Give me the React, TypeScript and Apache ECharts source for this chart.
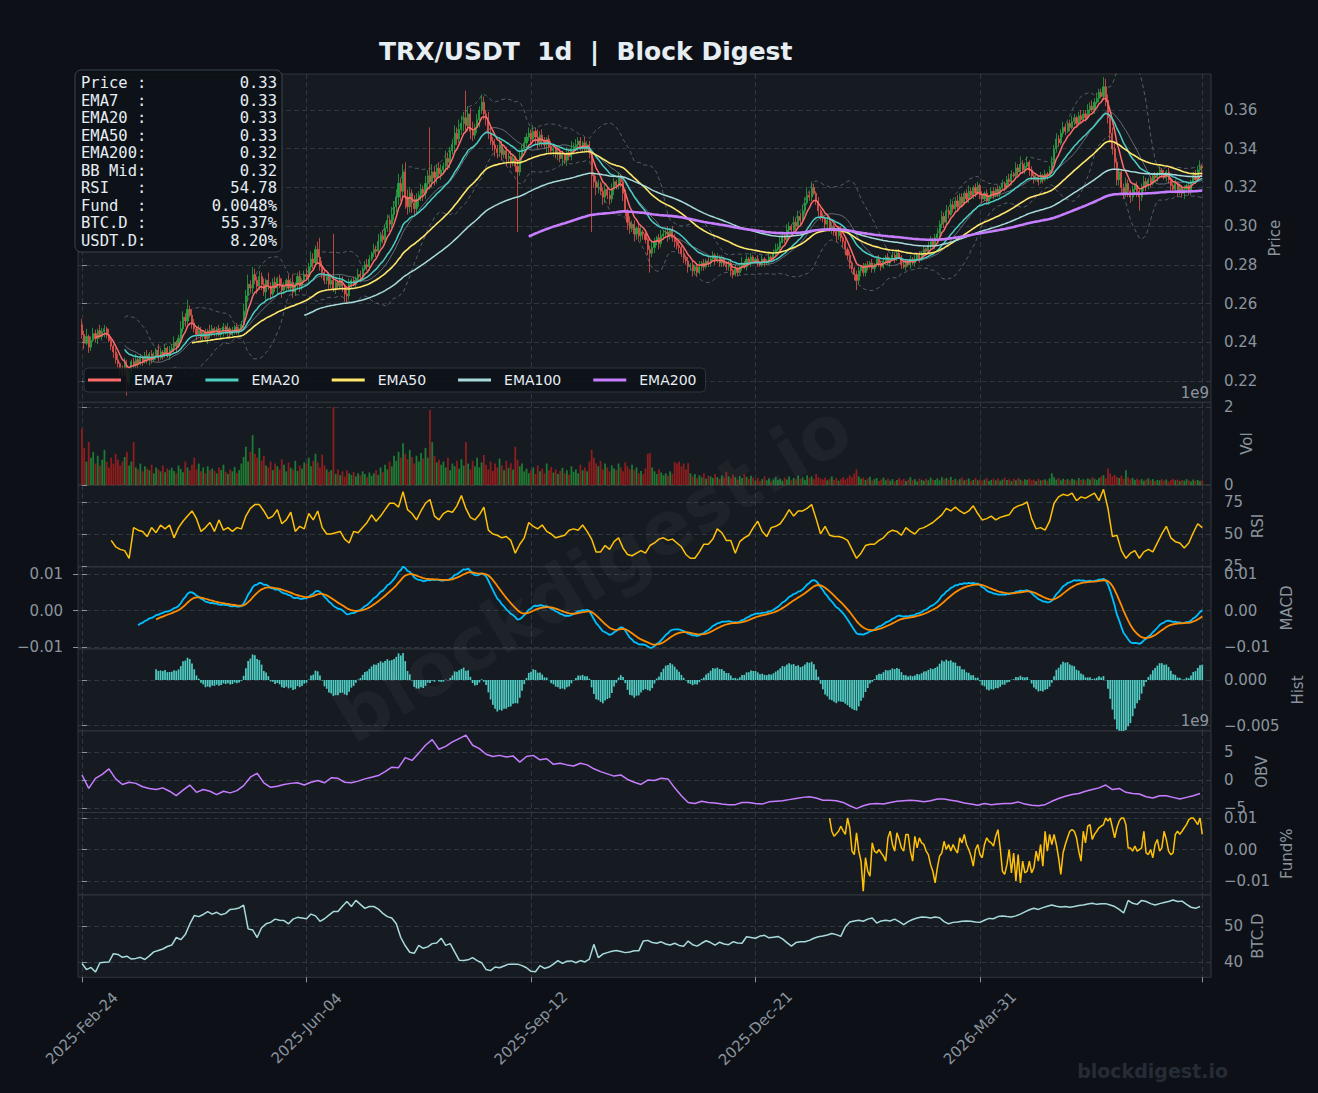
import React, { useEffect, useRef } from "react";
import * as echarts from "echarts";

// ---------------- DATA ----------------
const START_UTC = Date.UTC(2025, 1, 24);
const FIRST_OPEN = 0.249;
// daily closes, units of 0.0001 USDT
const closeE4 = [
  2440, 2395, 2430, 2375, 2410, 2445, 2420, 2460, 2430, 2455,
  2470, 2440, 2410, 2380, 2350, 2310, 2290, 2260, 2240, 2280,
  2195, 2250, 2300, 2280, 2310, 2290, 2320, 2300, 2330, 2310,
  2340, 2310, 2330, 2360, 2320, 2350, 2340, 2370, 2330, 2360,
  2370, 2400, 2380, 2420, 2470, 2530, 2510, 2570, 2540, 2500,
  2470, 2440, 2460, 2430, 2450, 2420, 2460, 2440, 2470, 2450,
  2470, 2440, 2460, 2480, 2450, 2470, 2440, 2460, 2480, 2450,
  2470, 2490, 2560, 2640, 2700, 2680, 2750, 2720, 2690, 2740,
  2700, 2660, 2720, 2690, 2650, 2710, 2680, 2730, 2700, 2670,
  2690, 2720, 2680, 2710, 2660, 2700, 2740, 2690, 2720, 2750,
  2740, 2790, 2830, 2810, 2880, 2840, 2790, 2760, 2720, 2740,
  2700, 2720, 2680, 2710, 2690, 2720, 2690, 2650, 2640, 2700,
  2720, 2700, 2730, 2750, 2740, 2780, 2800, 2790, 2830, 2860,
  2880, 2870, 2920, 2950, 2930, 2990, 3030, 3010, 3060, 3100,
  3150, 3220, 3180, 3280, 3150, 3100, 3170, 3120, 3090, 3140,
  3160, 3190, 3170, 3220, 3260, 3230, 3280, 3250, 3300, 3270,
  3290, 3310, 3350, 3330, 3390, 3420, 3480, 3450, 3500, 3530,
  3560, 3520, 3580, 3490, 3470, 3510, 3550, 3600, 3640, 3580,
  3560, 3480, 3440, 3420, 3400, 3380, 3420, 3370, 3390, 3350,
  3360, 3330, 3350, 3310, 3280, 3360, 3400, 3430, 3460, 3480,
  3450, 3490, 3460, 3430, 3470, 3440, 3420, 3450, 3410, 3390,
  3400, 3370, 3380, 3350, 3370, 3340, 3380, 3360, 3400, 3410,
  3420, 3440, 3410, 3430, 3400, 3420, 3380, 3260, 3230, 3200,
  3220, 3180, 3150, 3190, 3160, 3140, 3190, 3230, 3210, 3250,
  3230, 3170, 3080, 3020, 2990, 3010, 2960, 2990, 2950, 2970,
  2960, 2930, 2880, 2860, 2890, 2920, 2940, 2910, 2950, 2960,
  2970, 2950, 2980, 2940, 2920, 2900, 2890, 2860, 2840, 2820,
  2790, 2800, 2770, 2790, 2760, 2790, 2810, 2790, 2820, 2810,
  2830, 2850, 2820, 2840, 2810, 2830, 2800, 2790, 2810, 2770,
  2750, 2780, 2760, 2790, 2810, 2790, 2830, 2810, 2840, 2820,
  2830, 2810, 2800, 2830, 2810, 2820, 2840, 2830, 2860, 2880,
  2890, 2920, 2950, 2930, 2980, 3000, 2980, 3020, 3000, 3050,
  3030, 3080, 3120, 3160, 3150, 3200, 3170, 3130, 3080, 3050,
  3040, 3010, 3030, 2990, 3000, 2970, 2950, 2980, 2940, 2920,
  2880, 2850, 2810, 2780, 2750, 2720, 2770, 2790, 2760, 2800,
  2790, 2810, 2780, 2800, 2830, 2810, 2790, 2820, 2840, 2810,
  2830, 2850, 2830, 2860, 2840, 2800, 2790, 2820, 2800, 2830,
  2810, 2830, 2850, 2830, 2860, 2880, 2870, 2900, 2920, 2900,
  2940, 2960, 3010, 3050, 3020, 3080, 3060, 3110, 3090, 3130,
  3100, 3150, 3120, 3170, 3140, 3180, 3160, 3200, 3170, 3210,
  3160, 3140, 3170, 3130, 3150, 3180, 3160, 3190, 3170, 3200,
  3220, 3200, 3240, 3230, 3270, 3260, 3300, 3280, 3320, 3290,
  3310, 3330, 3290, 3260, 3240, 3250, 3230, 3260, 3240, 3270,
  3260, 3290, 3330, 3400, 3450, 3430, 3480, 3510, 3490, 3530,
  3510, 3540, 3560, 3530, 3570, 3550, 3580, 3560, 3600, 3620,
  3600, 3640, 3660, 3690, 3670, 3720, 3650, 3560, 3480, 3400,
  3330, 3240, 3280, 3200, 3170, 3220, 3180, 3150, 3190, 3210,
  3180, 3150, 3200, 3230, 3210, 3240, 3220, 3260, 3250, 3270,
  3290, 3270, 3250, 3280, 3240, 3210, 3190, 3220, 3180, 3200,
  3170, 3190, 3210, 3180, 3230, 3260, 3240, 3290, 3310, 3300,
];
// upper / lower wick lengths, units of 0.001 USDT
const upperWickE3 = [
  3,2,4,1,2,3,2,1,3,2,2,1,3,2,1,2,3,1,2,4,
  3,2,1,2,3,1,2,1,2,3,1,2,2,1,3,2,1,2,1,2,
  2,3,1,2,4,3,2,5,2,3,2,1,3,2,1,2,1,3,2,1,
  1,2,1,2,1,3,1,2,1,2,1,2,4,3,5,2,4,3,2,3,
  2,3,1,4,2,2,3,1,2,3,2,1,3,2,4,1,2,3,1,2,
  3,2,4,3,2,4,10,3,2,1,2,3,24,2,1,3,2,1,2,3,
  1,2,1,3,2,1,2,3,2,1,3,2,4,2,3,2,3,2,4,3,
  4,5,3,4,5,4,3,2,4,3,2,3,2,4,3,25,4,3,2,3,
  3,2,4,3,2,3,4,3,5,4,3,14,4,3,5,2,3,2,4,3,
  2,3,4,2,3,2,3,2,1,2,2,3,2,1,2,3,2,3,2,3,
  2,3,2,4,2,3,2,1,2,3,2,1,3,2,2,1,3,2,4,2,
  3,2,2,1,3,2,2,1,2,3,2,1,2,3,1,2,3,2,1,3,
  2,1,2,1,3,2,2,1,2,3,1,2,1,2,3,2,1,2,3,2,
  2,3,1,2,2,1,2,1,2,1,2,1,2,1,2,3,1,2,1,2,
  1,2,1,2,1,2,1,2,1,2,1,2,1,2,3,1,2,1,2,1,
  1,2,1,2,1,1,2,1,2,3,2,3,2,1,3,2,1,3,2,3,
  2,3,3,4,2,3,2,1,2,1,2,1,2,1,2,1,2,1,2,1,
  2,1,2,1,1,2,2,1,2,1,2,1,2,1,1,2,1,2,1,2,
  1,2,1,1,2,1,2,1,1,2,1,2,1,2,1,2,1,2,3,2,
  2,3,2,3,2,3,2,3,2,2,3,2,2,1,2,3,2,1,2,2,
  1,2,1,2,1,2,2,1,2,1,2,1,2,3,2,1,3,2,4,2,
  2,3,1,2,1,2,1,2,1,2,1,2,3,2,3,2,2,3,2,1,
  2,3,2,1,2,3,2,2,3,2,3,2,3,2,2,5,4,3,2,3,
  3,2,2,1,2,3,2,1,2,1,2,1,2,3,2,1,2,1,2,1,
  2,1,2,1,2,1,1,2,1,2,1,2,1,2,1,2,3,2,3,1,
];
const lowerWickE3 = [
  2,3,1,3,2,1,2,3,1,2,3,2,1,2,3,2,2,3,2,1,
  7,2,3,1,2,3,1,2,1,2,3,2,1,2,2,1,3,2,1,2,
  1,2,3,1,2,2,3,2,1,3,2,3,1,2,2,1,3,2,1,2,
  2,1,2,3,1,2,2,1,2,1,2,1,2,2,3,2,3,2,4,2,
  3,2,4,2,3,1,2,3,2,4,2,3,1,2,3,2,2,3,2,1,
  2,3,2,3,2,3,2,3,2,2,3,2,2,3,2,1,3,4,4,2,
  2,1,2,2,3,2,1,2,2,1,2,3,2,3,2,3,2,4,2,3,
  3,4,5,3,6,4,3,5,4,3,4,3,4,3,3,4,3,4,3,2,
  3,2,3,4,3,2,4,3,2,3,4,3,3,4,3,2,3,4,2,3,
  4,3,2,3,4,3,2,3,2,4,2,3,2,3,31,2,3,2,3,2,
  3,2,4,3,2,3,2,4,3,2,3,2,3,2,4,2,3,2,2,3,
  2,3,2,3,2,2,3,29,3,4,3,2,4,3,2,3,2,3,2,2,
  3,4,3,4,3,2,4,3,2,3,3,2,3,10,2,3,2,3,2,2,
  2,3,2,2,3,2,3,2,3,2,3,2,3,2,2,1,2,2,1,2,
  2,1,2,1,2,2,1,2,2,3,2,1,2,1,2,1,2,1,2,1,
  1,2,1,1,2,1,2,1,1,2,1,2,1,2,1,2,2,1,2,1,
  2,1,2,1,2,2,1,2,3,2,2,3,2,2,3,2,3,2,2,3,
  3,2,3,2,3,5,2,3,2,2,2,1,2,2,1,2,2,1,2,1,
  2,1,2,1,1,2,1,2,1,2,1,2,1,2,1,2,1,1,2,1,
  2,1,2,2,3,2,2,1,2,2,2,1,2,1,2,2,1,2,2,1,
  2,2,1,2,2,1,2,1,2,2,1,2,1,2,2,1,2,2,1,2,
  2,1,3,2,2,1,2,1,2,1,2,1,2,1,2,2,1,2,2,1,
  2,1,2,2,1,2,1,2,1,2,1,2,1,2,1,2,3,3,4,3,
  4,3,3,4,3,2,3,3,2,3,3,7,2,2,3,2,2,1,2,2,
  2,2,1,2,2,3,2,2,3,2,2,3,2,2,2,1,2,1,1,2,
];
// daily volume, units of 1e7
const volumeE7 = [
  145,95,60,110,70,85,55,75,50,65,90,60,45,70,55,80,65,50,60,72,
  85,50,60,110,45,40,55,35,48,42,38,52,30,45,40,35,50,33,42,38,
  44,36,30,50,41,33,60,45,38,52,70,40,55,35,45,30,48,38,42,36,
  30,45,38,52,34,28,40,35,46,30,38,55,72,98,60,85,128,80,70,95,
  62,75,50,45,60,38,55,48,40,66,52,35,58,44,40,62,36,50,42,58,
  55,70,48,62,80,58,45,78,50,40,34,38,200,28,40,25,35,22,38,30,
  26,33,22,30,25,35,28,20,32,24,30,38,26,45,33,52,40,60,48,75,
  62,85,70,107,80,66,90,72,55,75,60,82,68,95,70,192,110,75,58,65,
  52,60,45,70,38,55,48,62,42,66,50,110,55,40,62,48,70,45,58,77,
  52,40,60,36,55,45,68,50,38,62,44,56,40,98,65,48,55,35,42,30,
  38,45,28,50,35,42,30,55,38,46,32,40,28,36,44,30,38,26,48,34,
  40,30,52,38,45,35,60,90,70,55,48,62,40,55,45,35,50,42,38,55,
  45,35,58,48,40,52,38,45,30,36,28,42,80,82,45,35,28,40,32,25,
  30,24,35,28,58,55,60,48,55,40,56,30,22,28,18,25,20,30,16,24,
  22,18,28,20,15,25,19,34,22,17,26,20,14,23,18,28,21,16,24,19,
  12,18,10,15,22,12,17,9,14,20,13,16,11,19,14,22,12,18,15,24,
  16,20,13,25,18,22,15,28,20,17,14,19,12,16,22,13,18,11,15,20,
  14,18,25,20,30,40,22,16,19,13,17,21,12,15,18,10,14,19,12,16,
  11,15,9,13,18,12,16,10,14,20,12,15,9,17,13,11,16,12,19,14,
  13,17,12,20,15,18,14,21,13,16,11,15,19,12,14,17,10,13,18,12,
  15,11,14,18,10,13,16,12,17,11,14,19,13,15,10,16,12,18,14,11,
  15,13,17,12,14,10,16,12,13,15,11,17,30,20,14,18,12,16,13,15,
  12,16,14,11,18,13,15,12,17,14,20,16,13,18,22,25,17,42,30,22,
  26,20,18,24,16,38,20,15,18,13,16,12,15,11,14,17,12,15,10,13,
  12,15,11,14,9,13,16,12,14,10,13,11,15,12,9,14,11,13,10,12,
];
// RSI(14), read every 2 days starting at day 13
const RSI_START = 13;
const RSI_STEP = 2;
const rsiValues = [
  45,40,38,37,31,55,53,52,48,55,51,57,54,57,47,55,60,64,68,
  62,52,55,59,52,61,53,55,52,55,54,64,70,73,73,68,62,64,69,58,
  61,67,52,56,54,66,61,68,55,50,50,51,52,46,43,52,51,55,59,65,
  60,64,69,74,74,71,83,69,66,61,68,74,77,64,61,66,68,67,72,80,
  70,63,61,65,71,53,50,49,47,48,45,35,42,47,59,56,54,57,52,50,
  47,48,49,53,54,53,57,52,46,36,36,41,38,44,47,39,34,33,35,37,
  35,41,43,46,47,45,46,43,40,34,31,31,36,42,42,46,54,51,45,45,
  35,44,47,49,55,60,52,48,55,56,58,63,69,64,68,68,70,73,62,50,
  56,49,48,48,47,45,38,31,35,41,42,42,45,47,51,53,52,49,55,52,
  50,54,55,57,59,62,65,70,68,71,68,66,68,72,66,61,62,64,61,63,
  64,65,70,72,73,75,62,54,55,53,60,74,79,81,80,82,76,79,78,80,
  82,76,85,70,48,49,37,31,35,37,31,36,38,36,43,50,56,47,44,43,
  39,43,51,58,55,
];
// OBV, read every 3 days, units of 1e8
const OBV_STEP = 3;
const obvE8 = [
  9,-15,3,10,20,2,-8,-4,-6,-12,
  -15,-17,-14,-20,-28,-18,-9,-22,-17,-20,
  -26,-20,-23,-19,-10,5,12,-5,-13,-11,
  -8,-6,-5,-9,-4,-1,-5,4,3,-4,
  -5,-2,2,5,8,15,23,22,40,35,
  48,62,72,55,60,68,74,80,62,56,
  46,42,44,41,43,32,42,44,36,38,
  28,30,27,25,30,27,20,15,11,7,
  9,1,-4,-8,0,-1,3,2,-14,-28,
  -40,-42,-38,-40,-41,-43,-44,-44,-40,-40,
  -42,-43,-39,-38,-37,-35,-33,-31,-30,-32,
  -36,-36,-37,-40,-46,-51,-46,-43,-42,-43,
  -40,-38,-37,-36,-37,-39,-37,-34,-34,-36,
  -38,-41,-43,-45,-42,-44,-43,-42,-42,-39,
  -43,-45,-46,-44,-38,-33,-29,-26,-24,-20,
  -17,-14,-9,-17,-15,-22,-24,-25,-30,-32,
  -28,-28,-31,-34,-31,-28,-24,
];
// funding rate (%), daily from day 333, units of 0.0001 %
const FUND_START = 333;
const fundE4 = [
  100,58,42,50,58,74,60,48,100,69,-5,-16,53,-5,-37,-132,-26,-69,-85,21,
  -5,-11,0,-11,-21,-37,37,58,16,-5,53,32,5,-5,48,48,-5,-37,42,5,
  37,21,16,-5,-16,-48,-69,-106,-58,-21,-11,26,0,16,-5,16,0,-11,37,21,
  48,16,0,-21,-53,0,16,-16,-26,16,37,26,21,11,42,63,5,-69,-79,-48,
  0,-74,-11,-100,-16,-106,-37,-74,-69,-37,-74,-58,-5,-37,16,-53,58,-5,48,16,
  48,16,-26,-79,-11,16,37,58,63,58,37,-5,-37,58,21,74,79,32,48,58,
  69,74,79,100,90,100,69,37,69,90,100,100,79,5,5,-5,11,-5,0,5,
  58,-11,-16,0,-26,16,32,-5,5,58,32,-5,-16,-11,48,58,48,58,69,79,
  95,100,100,90,79,100,48,
];
// BTC dominance (%), read every 2 days
const BTCD_STEP = 2;
const btcDominance = [
  39.6,37.9,38.5,37.2,39.8,39.9,40.0,42.3,42.1,41.3,
  41.6,40.8,41.0,41.3,40.7,41.7,42.8,43.2,43.6,44.3,
  44.7,46.8,46.2,47.6,50.5,52.9,52.6,53.2,54.0,53.3,
  53.8,53.1,53.5,54.6,54.7,55.0,55.8,49.2,48.9,46.8,
  49.5,50.6,51.0,51.9,51.6,51.5,50.6,51.9,52.4,52.2,
  52.0,53.3,52.8,51.3,52.0,53.0,54.0,54.0,55.5,56.8,
  55.4,57.1,56.0,54.9,55.4,55.4,54.7,53.5,52.6,52.2,
  50.6,46.8,44.5,42.7,42.4,44.6,43.8,44.2,45.1,45.3,
  46.6,44.6,45.1,42.8,40.5,40.4,40.6,41.2,40.4,39.8,
  37.9,37.6,38.6,38.4,38.9,39.4,39.4,39.4,39.0,38.4,
  37.4,37.3,39.0,38.2,38.6,39.4,40.4,39.6,40.2,40.3,
  39.8,40.4,40.0,40.8,44.9,41.2,42.2,42.6,43.0,43.2,
  42.9,42.6,42.8,43.1,43.1,45.8,46.0,45.4,45.2,45.6,
  45.0,44.7,45.2,44.6,44.4,45.8,44.8,44.4,45.2,45.9,
  45.4,44.7,45.5,45.0,44.8,45.6,45.3,45.2,47.0,46.8,
  46.6,47.2,47.4,46.7,46.9,47.1,46.4,45.4,44.4,45.4,
  45.6,45.6,46.0,46.6,47.0,47.2,47.5,47.9,47.6,47.1,
  49.8,51.1,51.4,51.6,51.3,51.9,52.2,50.8,51.4,51.6,
  51.4,51.9,51.2,50.4,51.2,51.8,52.2,52.5,52.4,52.2,
  52.5,52.3,51.2,50.6,51.0,51.1,51.3,51.4,51.3,51.1,
  51.0,51.6,52.1,52.0,52.6,52.8,52.6,52.5,52.8,53.3,
  53.9,54.5,54.9,54.6,55.1,55.5,55.8,55.5,55.3,55.4,
  55.2,55.4,55.7,55.8,56.1,56.3,56.0,56.2,56.2,55.8,
  55.4,54.6,53.6,57.1,56.3,56.0,57.1,56.8,56.2,55.8,
  56.2,56.5,56.8,57.2,56.8,56.9,56.0,55.2,54.9,55.4,
];
// tick values
const priceTicks = [0.22, 0.24, 0.26, 0.28, 0.3, 0.32, 0.34, 0.36];
const volTicks = [0, 2e9];
const rsiTicks = [25, 50, 75];
const macdTicks = [-0.01, 0, 0.01];
const histTicks = [-0.005, 0];
const obvTicks = [-5e9, 0, 5e9];
const fundTicks = [-0.01, 0, 0.01];
const btcTicks = [40, 50];
const dateTickIdx = [0, 100, 200, 300, 400, 499];
const infoLabels = ["Price :", "EMA7  :", "EMA20 :", "EMA50 :", "EMA200:", "BB Mid:", "RSI   :", "Fund  :", "BTC.D :", "USDT.D:"];
const infoValues = ["0.33", "0.33", "0.33", "0.33", "0.32", "0.32", "54.78", "0.0048%", "55.37%", "8.20%"];
const emaSpans = [7, 20, 50, 100, 200];
const emaColors = ["#ff6b6b", "#4ecdc4", "#ffe66d", "#a8dadc", "#c77dff"];
const emaWidths = [1.5, 1.5, 1.6, 1.5, 2.6];

// ---------------- STYLE ----------------
const BG = "#0d1117";
const PANEL = "#161b22";
const GRIDC = "#30363d";
const MUTED = "#8b949e";
const BRIGHT = "#e6edf3";
const UP = "#26a641";
const DOWN = "#e5534b";
const VOL_UP = "#1f7a33";
const VOL_DOWN = "#8e1d1d";
const FONT = "DejaVu Sans";
const MONTHS = ["Jan", "Feb", "Mar", "Apr", "May", "Jun", "Jul", "Aug", "Sep", "Oct", "Nov", "Dec"];

function dateLabel(idx: number) {
  const d = new Date(START_UTC + idx * 86400000);
  return `${d.getUTCFullYear()}-${MONTHS[d.getUTCMonth()]}-${String(d.getUTCDate()).padStart(2, "0")}`;
}
function ema(src: number[], span: number) {
  const a = 2 / (span + 1);
  const out: number[] = [];
  let prev = src[0];
  src.forEach((v, i) => {
    prev = i === 0 ? v : a * v + (1 - a) * prev;
    out.push(prev);
  });
  return out;
}
const minus = (s: string) => s.replace("-", "\u2212");

function buildOption() {
  const N = closeE4.length;
  const close = closeE4.map((v) => v / 10000);
  const open = close.map((c, i) => (i === 0 ? FIRST_OPEN : close[i - 1]));
  const candles = close.map((c, i) => {
    const o = open[i];
    const hi = Math.max(o, c) + (upperWickE3[i] ?? 0) / 1000;
    const lo = Math.min(o, c) - (lowerWickE3[i] ?? 0) / 1000;
    return [i, o, c, lo, hi];
  });
  const pairs = (arr: number[], from: number) => arr.slice(from).map((v, k) => [from + k, v]);

  const emaSeries = emaSpans.map((span, k) => ({
    type: "line",
    name: "EMA" + span,
    xAxisIndex: 0,
    yAxisIndex: 0,
    data: pairs(ema(close, span), span - 1),
    symbol: "none",
    lineStyle: { color: emaColors[k], width: emaWidths[k] },
    itemStyle: { color: emaColors[k] },
    z: 5,
  }));

  const bbUp: number[][] = [], bbLo: number[][] = [], bbMid: number[][] = [];
  for (let i = 19; i < N; i++) {
    const w = close.slice(i - 19, i + 1);
    const m = w.reduce((s, v) => s + v, 0) / 20;
    const sd = Math.sqrt(w.reduce((s, v) => s + (v - m) * (v - m), 0) / 19);
    bbUp.push([i, m + 2 * sd]);
    bbLo.push([i, m - 2 * sd]);
    bbMid.push([i, m]);
  }

  const e12 = ema(close, 12), e26 = ema(close, 26);
  const macdAll = close.map((_, i) => e12[i] - e26[i]);
  const macdPart = macdAll.slice(25);
  const sigPart = ema(macdPart, 9);
  const macd = macdPart.map((v, k) => [25 + k, v]);
  const signal = sigPart.slice(8).map((v, k) => [33 + k, v]);
  const hist = sigPart.slice(8).map((v, k) => [33 + k, macdPart[8 + k] - v]);

  const vol = volumeE7.map((v, i) => ({
    value: [i, v * 1e7],
    itemStyle: { color: close[i] >= open[i] ? VOL_UP : VOL_DOWN },
  }));
  const rsi = rsiValues.map((v, k) => [RSI_START + k * RSI_STEP, v]);
  const obv = obvE8.map((v, k) => [k * OBV_STEP, v * 1e8]);
  const fund = fundE4.map((v, k) => [FUND_START + k, v / 10000]);
  const btc = btcDominance.map((v, k) => [k * BTCD_STEP, v]);

  const panels = [
    { top: 74, height: 328.3, min: 0.209, max: 0.3786, ticks: priceTicks, name: "Price", gap: 56, fmt: (v: number) => v.toFixed(2) },
    { top: 402.3, height: 82.7, min: 0, max: 2.12e9, ticks: volTicks, name: "Vol", gap: 28, fmt: (v: number) => (v / 1e9).toFixed(0) },
    { top: 485, height: 82, min: 24.2, max: 88.3, ticks: rsiTicks, name: "RSI", gap: 39, fmt: (v: number) => v.toFixed(0) },
    { top: 567, height: 82, min: -0.01046, max: 0.0119, ticks: macdTicks, name: "MACD", gap: 68, fmt: (v: number) => v.toFixed(2) },
    { top: 649, height: 82, min: -0.00558, max: 0.00339, ticks: histTicks, name: "Hist", gap: 79, fmt: (v: number) => v.toFixed(3) },
    { top: 731, height: 81.5, min: -5.8e9, max: 8.75e9, ticks: obvTicks, name: "OBV", gap: 43, fmt: (v: number) => (v / 1e9).toFixed(0) },
    { top: 812.5, height: 82.5, min: -0.01444, max: 0.01175, ticks: fundTicks, name: "Fund%", gap: 68, fmt: (v: number) => v.toFixed(2) },
    { top: 895, height: 82.3, min: 35.75, max: 58.6, ticks: btcTicks, name: "BTC.D", gap: 39, fmt: (v: number) => v.toFixed(0) },
  ];
  const dashed = { color: GRIDC, width: 1, type: [5, 3] };

  const grid = panels.map((p) => ({
    left: 78, width: 1133, top: p.top, height: p.height,
    show: true, backgroundColor: PANEL, borderColor: GRIDC, borderWidth: 1,
    containLabel: false, outerBoundsMode: "none",
  }));
  const xAxis = panels.map((p, k) => ({
    type: "value", gridIndex: k, min: -1.78, max: 502.9,
    axisLine: { show: false },
    axisTick: { show: k === 7, customValues: dateTickIdx, length: 5, lineStyle: { color: MUTED } },
    axisLabel: {
      show: k === 7, customValues: dateTickIdx, rotate: 45, fontSize: 15, color: MUTED, margin: 51,
      align: "center", verticalAlign: "middle",
      fontFamily: FONT, formatter: (v: number) => (v === 499 ? "" : dateLabel(v)),
    },
    splitLine: { show: true, lineStyle: dashed },
  }));
  const yAxis: any[] = panels.map((p, k) => ({
    type: "value", gridIndex: k, position: "right", min: p.min, max: p.max,
    name: p.name, nameLocation: "middle", nameRotate: 90, nameGap: p.gap, nameMoveOverlap: false,
    nameTextStyle: { color: MUTED, fontSize: 15, fontFamily: FONT },
    axisLine: { show: false },
    axisTick: { show: true, customValues: p.ticks, length: 5, lineStyle: { color: MUTED } },
    axisLabel: { customValues: p.ticks, color: MUTED, fontSize: 15, margin: 13, fontFamily: FONT, formatter: (v: number) => minus(p.fmt(v)) },
    splitLine: { show: true, lineStyle: dashed },
  }));
  yAxis.push({
    type: "value", gridIndex: 3, position: "left", min: panels[3].min, max: panels[3].max,
    axisLine: { show: false },
    axisTick: { show: true, customValues: macdTicks, length: 5, lineStyle: { color: MUTED } },
    axisLabel: { customValues: macdTicks, color: MUTED, fontSize: 15, margin: 15, fontFamily: FONT, formatter: (v: number) => minus(v.toFixed(2)) },
    splitLine: { show: false },
  });

  const thinLine = (name: string, data: any, xi: number, color: string, width: number, extra: any = {}) => ({
    type: "line", name, xAxisIndex: xi, yAxisIndex: xi, data, symbol: "none",
    lineStyle: { color, width, ...extra }, itemStyle: { color }, silent: true,
  });

  const series: any[] = [
    thinLine("BB Upper", bbUp, 0, MUTED, 1, { type: [4, 3], opacity: 0.55 }),
    thinLine("BB Lower", bbLo, 0, MUTED, 1, { type: [4, 3], opacity: 0.55 }),
    thinLine("BB Mid", bbMid, 0, "#7d8590", 1, { opacity: 0.75 }),
    {
      type: "candlestick", name: "TRX", xAxisIndex: 0, yAxisIndex: 0, data: candles,
      encode: { x: 0, y: [1, 2, 3, 4] }, barWidth: "70%",
      itemStyle: { color: UP, color0: DOWN, borderColor: UP, borderColor0: DOWN, borderWidth: 0.8 },
      z: 3,
    },
    ...emaSeries,
    { type: "bar", name: "Vol", xAxisIndex: 1, yAxisIndex: 1, data: vol, barWidth: 1.8 },
    thinLine("RSI", rsi, 2, "#ffc107", 1.5),
    thinLine("MACD", macd, 3, "#00bfff", 1.8),
    thinLine("Signal", signal, 3, "#ff8c00", 1.8),
    { type: "bar", name: "Hist", xAxisIndex: 4, yAxisIndex: 4, data: hist, barWidth: 1.7, itemStyle: { color: "#4ecdc4" } },
    thinLine("OBV", obv, 5, "#c77dff", 1.5),
    thinLine("Fund%", fund, 6, "#ffc107", 1.5),
    thinLine("BTC.D", btc, 7, "#a8dadc", 1.5),
  ];

  const graphic: any[] = [
    { type: "rect", shape: { x: 75, y: 70, width: 207, height: 182, r: 6 }, style: { fill: "rgba(13,17,23,0.88)", stroke: "#3d444d", lineWidth: 1 }, z: 100 },
    { type: "text", x: 81, y: 74.5, z: 101, style: { text: infoLabels.join("\n"), fill: BRIGHT, font: '15.5px "DejaVu Sans Mono"', lineHeight: 17.5, verticalAlign: "top" } },
    { type: "text", x: 277, y: 74.5, z: 101, style: { text: infoValues.join("\n"), fill: BRIGHT, font: '15.5px "DejaVu Sans Mono"', lineHeight: 17.5, align: "right", verticalAlign: "top" } },
    { type: "text", x: 1209, y: 393, z: 101, style: { text: "1e9", fill: MUTED, font: '15px "DejaVu Sans"', align: "right", verticalAlign: "middle" } },
    { type: "text", x: 1209, y: 721, z: 101, style: { text: "1e9", fill: MUTED, font: '15px "DejaVu Sans"', align: "right", verticalAlign: "middle" } },
    { type: "text", x: 592, y: 572, rotation: (31 * Math.PI) / 180, z: 90, silent: true, style: { text: "blockdigest.io", fill: "rgba(255,255,255,0.035)", font: 'bold 74px "DejaVu Sans"', align: "center", verticalAlign: "middle" } },
    { type: "text", x: 1228, y: 1071, z: 101, silent: true, style: { text: "blockdigest.io", fill: "#262c36", font: 'bold 19px "DejaVu Sans"', align: "right", verticalAlign: "middle" } },
  ];

  return {
    animation: false,
    backgroundColor: BG,
    textStyle: { fontFamily: FONT },
    title: {
      text: "TRX/USDT  1d  |  Block Digest", left: 374, top: 34,
      textStyle: { color: BRIGHT, fontSize: 25, fontWeight: "bold", fontFamily: FONT },
    },
    legend: {
      left: 84, top: 368, orient: "horizontal", icon: "rect", itemWidth: 33, itemHeight: 3, itemGap: 32,
      padding: [5, 9, 5, 4], backgroundColor: "rgba(13,17,23,0.85)", borderColor: GRIDC, borderWidth: 1, borderRadius: 4,
      textStyle: { color: BRIGHT, fontSize: 14, fontFamily: FONT, padding: [0, 0, 0, 8] },
      data: emaSpans.map((s) => "EMA" + s),
      selectedMode: false,
    },
    grid, xAxis, yAxis, series, graphic,
  };
}

export default function App() {
  const ref = useRef<HTMLDivElement>(null);
  useEffect(() => {
    document.body.style.margin = "0";
    document.body.style.background = BG;
    const chart = echarts.init(ref.current as HTMLDivElement, null, { renderer: "svg" });
    chart.setOption(buildOption() as any);
    return () => chart.dispose();
  }, []);
  return <div ref={ref} style={{ width: 1318, height: 1093, position: "absolute", left: 0, top: 0 }} />;
}
